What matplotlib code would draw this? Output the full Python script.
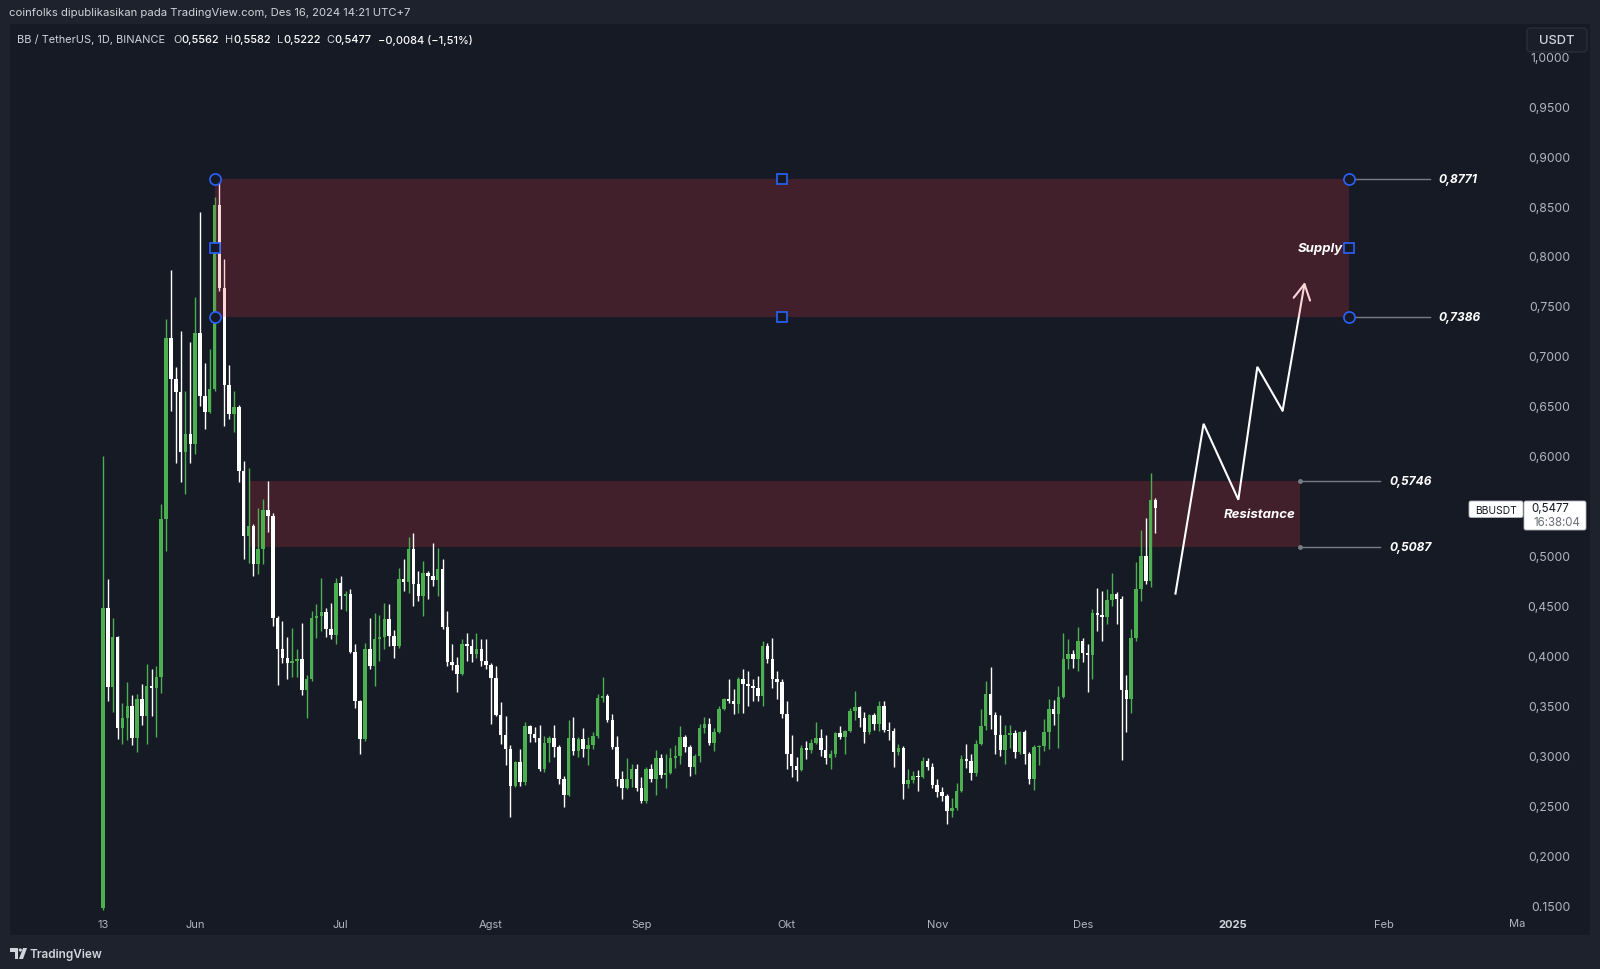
import matplotlib
matplotlib.use("Agg")
import matplotlib.pyplot as plt
import matplotlib.transforms as mtransforms
from matplotlib.patches import Rectangle, FancyBboxPatch, Polygon, Circle
from matplotlib.transforms import Bbox, TransformedBbox
import numpy as np
import pandas as pd

plt.rcParams["font.family"] = ["Inter", "DejaVu Sans"]

# ---- data: BB/USDT daily candles ----
START = "2024-05-13"
opens = [
    0.147, 0.448, 0.369, 0.419, 0.327, 0.337, 0.350, 0.317, 0.357, 0.339,
    0.370, 0.368, 0.379, 0.537, 0.718, 0.677, 0.664, 0.604, 0.622, 0.612,
    0.723, 0.660, 0.644, 0.667, 0.851, 0.768, 0.671, 0.642, 0.649, 0.585,
    0.520, 0.530, 0.492, 0.507, 0.546, 0.540, 0.438, 0.407, 0.398, 0.393,
    0.395, 0.397, 0.366, 0.377, 0.438, 0.440, 0.444, 0.427, 0.421, 0.473,
    0.460, 0.462, 0.404, 0.355, 0.316, 0.407, 0.390, 0.417, 0.419, 0.437,
    0.420, 0.410, 0.477, 0.474, 0.507, 0.472, 0.460, 0.483, 0.480, 0.476,
    0.487, 0.429, 0.394, 0.391, 0.382, 0.412, 0.410, 0.402, 0.407, 0.395,
    0.391, 0.378, 0.341, 0.320, 0.306, 0.269, 0.293, 0.273, 0.329, 0.321,
    0.317, 0.286, 0.312, 0.317, 0.308, 0.276, 0.260, 0.317, 0.304, 0.316,
    0.306, 0.310, 0.319, 0.358, 0.360, 0.335, 0.308, 0.276, 0.267, 0.276,
    0.286, 0.267, 0.254, 0.286, 0.276, 0.297, 0.280, 0.282, 0.297, 0.299,
    0.318, 0.308, 0.288, 0.299, 0.327, 0.331, 0.312, 0.323, 0.347, 0.357,
    0.355, 0.352, 0.377, 0.372, 0.370, 0.368, 0.360, 0.410, 0.397, 0.377,
    0.374, 0.342, 0.301, 0.289, 0.285, 0.307, 0.305, 0.312, 0.317, 0.305,
    0.297, 0.301, 0.322, 0.318, 0.324, 0.345, 0.349, 0.337, 0.323, 0.340,
    0.331, 0.350, 0.325, 0.324, 0.303, 0.307, 0.271, 0.275, 0.279, 0.278,
    0.294, 0.288, 0.270, 0.263, 0.259, 0.244, 0.247, 0.264, 0.296, 0.294,
    0.282, 0.311, 0.329, 0.362, 0.341, 0.320, 0.305, 0.320, 0.322, 0.303,
    0.323, 0.301, 0.276, 0.308, 0.309, 0.323, 0.347, 0.342, 0.359, 0.397,
    0.402, 0.397, 0.415, 0.403, 0.401, 0.443, 0.441, 0.439, 0.456, 0.462,
    0.457, 0.366, 0.357, 0.418, 0.467, 0.500, 0.475, 0.5562,
]
highs = [
    0.600, 0.477, 0.438, 0.420, 0.353, 0.374, 0.361, 0.362, 0.372, 0.392,
    0.387, 0.390, 0.552, 0.737, 0.786, 0.689, 0.725, 0.665, 0.714, 0.759,
    0.844, 0.693, 0.707, 0.859, 0.877, 0.797, 0.691, 0.665, 0.651, 0.595,
    0.588, 0.532, 0.548, 0.557, 0.575, 0.543, 0.440, 0.435, 0.419, 0.428,
    0.407, 0.433, 0.381, 0.445, 0.452, 0.478, 0.448, 0.453, 0.478, 0.480,
    0.465, 0.467, 0.412, 0.356, 0.413, 0.438, 0.443, 0.441, 0.453, 0.452,
    0.426, 0.488, 0.497, 0.519, 0.523, 0.485, 0.495, 0.485, 0.513, 0.508,
    0.497, 0.445, 0.412, 0.399, 0.417, 0.423, 0.417, 0.423, 0.417, 0.417,
    0.393, 0.390, 0.354, 0.339, 0.310, 0.294, 0.306, 0.333, 0.330, 0.328,
    0.330, 0.319, 0.319, 0.330, 0.310, 0.279, 0.335, 0.338, 0.318, 0.327,
    0.318, 0.323, 0.362, 0.379, 0.362, 0.342, 0.319, 0.284, 0.297, 0.291,
    0.291, 0.278, 0.288, 0.291, 0.305, 0.301, 0.301, 0.307, 0.310, 0.329,
    0.320, 0.310, 0.301, 0.331, 0.338, 0.337, 0.327, 0.350, 0.358, 0.377,
    0.367, 0.379, 0.387, 0.385, 0.377, 0.380, 0.415, 0.413, 0.418, 0.385,
    0.377, 0.355, 0.320, 0.298, 0.310, 0.314, 0.316, 0.333, 0.326, 0.320,
    0.305, 0.323, 0.329, 0.325, 0.348, 0.365, 0.350, 0.344, 0.342, 0.343,
    0.355, 0.355, 0.333, 0.327, 0.311, 0.309, 0.286, 0.284, 0.285, 0.298,
    0.297, 0.292, 0.276, 0.268, 0.261, 0.257, 0.272, 0.300, 0.311, 0.301,
    0.315, 0.347, 0.375, 0.389, 0.344, 0.340, 0.330, 0.330, 0.325, 0.324,
    0.325, 0.303, 0.310, 0.310, 0.336, 0.357, 0.356, 0.370, 0.423, 0.417,
    0.406, 0.429, 0.418, 0.412, 0.447, 0.468, 0.465, 0.467, 0.483, 0.464,
    0.460, 0.381, 0.427, 0.494, 0.526, 0.538, 0.583, 0.5582,
]
lows = [
    0.145, 0.355, 0.344, 0.316, 0.311, 0.315, 0.310, 0.303, 0.330, 0.311,
    0.339, 0.318, 0.363, 0.505, 0.645, 0.593, 0.574, 0.562, 0.593, 0.602,
    0.650, 0.627, 0.643, 0.665, 0.765, 0.630, 0.637, 0.624, 0.574, 0.497,
    0.493, 0.480, 0.482, 0.492, 0.524, 0.430, 0.371, 0.393, 0.377, 0.379,
    0.379, 0.361, 0.337, 0.375, 0.418, 0.425, 0.419, 0.417, 0.412, 0.447,
    0.445, 0.403, 0.348, 0.301, 0.314, 0.387, 0.370, 0.395, 0.407, 0.410,
    0.398, 0.408, 0.465, 0.463, 0.450, 0.455, 0.440, 0.457, 0.470, 0.460,
    0.427, 0.390, 0.386, 0.364, 0.381, 0.395, 0.394, 0.398, 0.390, 0.387,
    0.331, 0.339, 0.311, 0.290, 0.238, 0.268, 0.269, 0.270, 0.313, 0.313,
    0.284, 0.283, 0.293, 0.298, 0.271, 0.248, 0.259, 0.300, 0.298, 0.298,
    0.290, 0.306, 0.317, 0.354, 0.333, 0.306, 0.269, 0.256, 0.266, 0.268,
    0.264, 0.252, 0.252, 0.273, 0.260, 0.277, 0.267, 0.281, 0.287, 0.291,
    0.303, 0.279, 0.281, 0.293, 0.322, 0.310, 0.304, 0.322, 0.346, 0.353,
    0.342, 0.343, 0.343, 0.350, 0.355, 0.355, 0.350, 0.393, 0.368, 0.357,
    0.337, 0.286, 0.278, 0.274, 0.284, 0.296, 0.302, 0.311, 0.299, 0.291,
    0.286, 0.298, 0.316, 0.301, 0.323, 0.335, 0.328, 0.312, 0.321, 0.325,
    0.324, 0.323, 0.315, 0.288, 0.300, 0.256, 0.267, 0.272, 0.264, 0.277,
    0.285, 0.267, 0.258, 0.254, 0.231, 0.238, 0.245, 0.263, 0.287, 0.275,
    0.279, 0.310, 0.325, 0.326, 0.301, 0.299, 0.291, 0.307, 0.297, 0.301,
    0.291, 0.271, 0.265, 0.290, 0.304, 0.306, 0.330, 0.307, 0.358, 0.387,
    0.388, 0.385, 0.394, 0.364, 0.377, 0.425, 0.415, 0.432, 0.450, 0.432,
    0.295, 0.323, 0.343, 0.415, 0.455, 0.472, 0.469, 0.5222,
]
closes = [
    0.448, 0.369, 0.419, 0.327, 0.337, 0.350, 0.317, 0.357, 0.339, 0.370,
    0.368, 0.379, 0.537, 0.718, 0.677, 0.664, 0.604, 0.622, 0.612, 0.723,
    0.660, 0.644, 0.667, 0.851, 0.768, 0.671, 0.642, 0.649, 0.585, 0.520,
    0.530, 0.492, 0.507, 0.546, 0.540, 0.438, 0.407, 0.398, 0.393, 0.395,
    0.397, 0.366, 0.377, 0.438, 0.440, 0.444, 0.427, 0.421, 0.473, 0.460,
    0.462, 0.404, 0.355, 0.316, 0.407, 0.390, 0.417, 0.419, 0.437, 0.420,
    0.410, 0.477, 0.474, 0.507, 0.472, 0.460, 0.483, 0.480, 0.476, 0.487,
    0.429, 0.394, 0.391, 0.382, 0.412, 0.410, 0.402, 0.407, 0.395, 0.391,
    0.378, 0.341, 0.320, 0.306, 0.269, 0.293, 0.273, 0.329, 0.321, 0.317,
    0.286, 0.312, 0.317, 0.308, 0.276, 0.260, 0.317, 0.304, 0.316, 0.306,
    0.310, 0.319, 0.358, 0.360, 0.335, 0.308, 0.276, 0.267, 0.276, 0.286,
    0.267, 0.254, 0.286, 0.276, 0.297, 0.280, 0.282, 0.297, 0.299, 0.318,
    0.308, 0.288, 0.299, 0.327, 0.331, 0.312, 0.323, 0.347, 0.357, 0.355,
    0.352, 0.377, 0.372, 0.370, 0.368, 0.360, 0.410, 0.397, 0.377, 0.374,
    0.342, 0.301, 0.289, 0.285, 0.307, 0.305, 0.312, 0.317, 0.305, 0.297,
    0.301, 0.322, 0.318, 0.324, 0.345, 0.349, 0.337, 0.323, 0.340, 0.331,
    0.350, 0.325, 0.324, 0.303, 0.307, 0.271, 0.275, 0.279, 0.278, 0.294,
    0.288, 0.270, 0.263, 0.259, 0.244, 0.247, 0.264, 0.296, 0.294, 0.282,
    0.311, 0.329, 0.362, 0.341, 0.320, 0.305, 0.320, 0.322, 0.303, 0.323,
    0.301, 0.276, 0.308, 0.309, 0.323, 0.347, 0.342, 0.359, 0.397, 0.402,
    0.397, 0.415, 0.403, 0.401, 0.443, 0.441, 0.439, 0.456, 0.462, 0.457,
    0.366, 0.357, 0.418, 0.467, 0.500, 0.475, 0.5562, 0.5477,
]

tick_dates = ["2024-05-13", "2024-06-01", "2024-07-01", "2024-08-01", "2024-09-01",
              "2024-10-01", "2024-11-01", "2024-12-01", "2025-01-01", "2025-02-01"]
tick_labels = ["13", "Jun", "Jul", "Agst", "Sep", "Okt", "Nov", "Des", "2025", "Feb"]
cut_tick_date = "2025-03-01"
price_ticks = [0.15, 0.20, 0.25, 0.30, 0.35, 0.40, 0.45, 0.50, 0.55, 0.60,
               0.65, 0.70, 0.75, 0.80, 0.85, 0.90, 0.95, 1.00]
price_tick_labels = ["0.1500", "0,2000", "0,2500", "0,3000", "0,3500", "0,4000",
                     "0,4500", "0,5000", "0,5500", "0,6000", "0,6500", "0,7000",
                     "0,7500", "0,8000", "0,8500", "0,9000", "0,9500", "1,0000"]

# drawings
supply_low, supply_high = 0.7386, 0.8771
supply_start, supply_end = "2024-06-05 02:00", "2025-01-24 22:00"
res_low, res_high = 0.5087, 0.5746
res_start, res_end = "2024-06-12 00:00", "2025-01-14 19:00"
path_dates = ["2024-12-20 02:00", "2024-12-25 22:00", "2025-01-02 02:00",
              "2025-01-06 00:00", "2025-01-11 05:00", "2025-01-15 19:00"]
path_prices = [0.461, 0.632, 0.556, 0.689, 0.645, 0.774]
last_price = "0,5477"
countdown = "16:38:04"

BG = "#161a25"
FRAME = "#1e222d"
GREEN = "#4caf50"
TXT = "#b2b5be"

start = pd.Timestamp(START)


def day(s):
    return (pd.Timestamp(s) - start) / pd.Timedelta(days=1)


fig = plt.figure(figsize=(16, 9.7), dpi=100, facecolor=FRAME)
# pixel coords measured from the top-left corner
pix = mtransforms.Affine2D().scale(1 / 1600, -1 / 970).translate(0, 1) + fig.transFigure

fig.add_artist(Rectangle((10, 25), 1580, 911, transform=pix, fc=BG, ec="none", zorder=0))

ax = fig.add_axes([10 / 1600, 1 - 913 / 970, 1485 / 1600, 888 / 970])
ax.set_facecolor(BG)
for sp in ax.spines.values():
    sp.set_visible(False)
ax.set_xlim(-19.18, 287.0)
ax.set_ylim(0.1433, 1.0322)

# candles
dates = pd.date_range(START, periods=len(closes), freq="D")
x = np.asarray((dates - start).days, dtype=float)
o, h, l, c = (np.array(v) for v in (opens, highs, lows, closes))
cols = np.where(c >= o, GREEN, "#ffffff")
ax.vlines(x, l, h, colors=cols, linewidth=1.0, zorder=3)
ax.bar(x, np.maximum(np.abs(c - o), 0.0015), bottom=np.minimum(o, c), width=0.72,
       color=cols, linewidth=0, zorder=3)

# zones
rs, re_ = day(res_start), day(res_end)
ss, se = day(supply_start), day(supply_end)
ax.add_patch(Rectangle((rs, res_low), re_ - rs, res_high - res_low,
                       fc="#f23645", alpha=0.2, ec="none", zorder=1))
ax.add_patch(Rectangle((ss, supply_low), se - ss, supply_high - supply_low,
                       fc="#f23645", alpha=0.2, ec="none", zorder=5))

# projected path
px_ = [day(d) for d in path_dates]
ax.plot(px_[:-1], path_prices[:-1], color="white", lw=1.5, zorder=4,
        solid_joinstyle="miter", solid_capstyle="butt")
ax.annotate("", xy=(px_[-1], path_prices[-1]), xytext=(px_[-2], path_prices[-2]),
            arrowprops=dict(arrowstyle="->,head_length=1.1,head_width=0.6",
                            color="white", lw=1.5, shrinkA=0, shrinkB=0), zorder=4)

# price lines + labels
for y0, x0, in [(supply_high, se), (supply_low, se), (res_high, re_), (res_low, re_)]:
    ax.plot([x0, x0 + 16.6], [y0, y0], color="#787b86", lw=1, zorder=2)
    ax.plot([x0], [y0], "o", ms=2.5, color="#787b86", zorder=2)
    lab = ("%.4f" % y0).replace(".", ",")
    ax.text(x0 + 18.5, y0, lab, color="white", fontsize=8.6, fontweight="bold",
            fontstyle="italic", va="center", ha="left", zorder=8)

ax.annotate("Supply", xy=(se, (supply_low + supply_high) / 2), xytext=(-4, 0),
            textcoords="offset points", ha="right", va="center", color="white",
            fontsize=9.5, fontweight="bold", fontstyle="italic", zorder=8)
ax.annotate("Resistance", xy=(re_, (res_low + res_high) / 2), xytext=(-3, 0),
            textcoords="offset points", ha="right", va="center", color="white",
            fontsize=9.5, fontweight="bold", fontstyle="italic", zorder=8)

# selection handles of the supply rectangle
mid_x, mid_y = (ss + se) / 2, (supply_low + supply_high) / 2
ax.plot([ss, ss, se, se], [supply_high, supply_low, supply_high, supply_low], "o",
        ms=8, mfc=BG, mec="#2962ff", mew=1.2, zorder=9, linestyle="none")
ax.plot([mid_x, mid_x, ss, se], [supply_high, supply_low, mid_y, mid_y], "s",
        ms=7, mfc=BG, mec="#2962ff", mew=1.2, zorder=9, linestyle="none")

# axes ticks
ax.set_xticks([day(d) for d in tick_dates], tick_labels)
ax.tick_params(axis="x", length=0, pad=5, labelcolor=TXT, labelsize=8)
for t in ax.get_xticklabels():
    if t.get_text() == "2025":
        t.set_fontweight("bold")
        t.set_color("#d1d4dc")
mar = ax.text(day(cut_tick_date), -0.0124, "Mar", transform=ax.get_xaxis_transform(),
              ha="center", va="center", color=TXT, fontsize=8)
mar.set_clip_on(True)
mar.set_clip_box(TransformedBbox(Bbox.from_extents(0, 0, 1525, 970),
                                 mtransforms.IdentityTransform()))

ax.yaxis.tick_right()
ax.set_yticks(price_ticks, price_tick_labels)
ax.tick_params(axis="y", length=0, pad=54, labelcolor=TXT, labelsize=8.8)
for t in ax.get_yticklabels():
    t.set_horizontalalignment("right")

# top texts
fig.text(9, 13, "coinfolks dipublikasikan pada TradingView.com, Des 16, 2024 14:21 UTC+7",
         transform=pix, color="#d1d4dc", fontsize=8.1, va="center", ha="left")

r = fig.canvas.get_renderer()
cx = 17
pieces = [("BB / TetherUS, 1D, BINANCE", "#d1d4dc", "normal", 8),
          ("O", "#d1d4dc", "normal", 0), ("0,5562", "white", "medium", 6),
          ("H", "#d1d4dc", "normal", 0), ("0,5582", "white", "medium", 6),
          ("L", "#d1d4dc", "normal", 0), ("0,5222", "white", "medium", 6),
          ("C", "#d1d4dc", "normal", 0), ("0,5477", "white", "medium", 6),
          ("\u22120,0084 (\u22121,51%)", "white", "medium", 0)]
for s, col, w, gap in pieces:
    t = fig.text(cx, 40, s, transform=pix, color=col, fontsize=7.9, fontweight=w,
                 va="center", ha="left")
    cx += t.get_window_extent(renderer=r).width + gap

# USDT button
fig.add_artist(FancyBboxPatch((1527, 29), 60, 24, boxstyle="round,pad=0,rounding_size=4",
                              transform=pix, fc="#1a1e29", ec="#2a2e39", lw=1, zorder=10))
fig.text(1557, 41.5, "USDT", transform=pix, color="#d1d4dc", fontsize=9.3,
         fontweight="medium", ha="center", va="center", zorder=11)

# last price tag
fig.add_artist(FancyBboxPatch((1469, 502), 54, 16.5, boxstyle="round,pad=0,rounding_size=2",
                              transform=pix, fc="white", ec="#b2b5be", lw=0.6, zorder=10))
fig.text(1496, 510.5, "BBUSDT", transform=pix, color="#131722", fontsize=7.4,
         ha="center", va="center", zorder=11)
fig.add_artist(FancyBboxPatch((1524, 502), 62, 29, boxstyle="round,pad=0,rounding_size=2",
                              transform=pix, fc="white", ec="#b2b5be", lw=0.6, zorder=10))
fig.text(1531, 509.5, last_price, transform=pix, color="#131722", fontsize=8.3,
         ha="left", va="center", zorder=11)
fig.text(1580, 523, countdown, transform=pix, color="#6a6d78", fontsize=8.3,
         ha="right", va="center", zorder=11)

# footer logo + name
fig.add_artist(Polygon([(10, 949), (18, 949), (18, 960), (15, 960), (15, 952.5), (10, 952.5)],
                       closed=True, transform=pix, fc="#d1d4dc", ec="none"))
fig.add_artist(Circle((20.3, 951), 1.6, transform=pix, fc="#d1d4dc", ec="none"))
fig.add_artist(Polygon([(23, 949), (27, 949), (23, 960), (19, 960)],
                       closed=True, transform=pix, fc="#d1d4dc", ec="none"))
fig.text(30, 955, "TradingView", transform=pix, color="#d1d4dc", fontsize=8.5,
         fontweight="semibold", ha="left", va="center")

fig.savefig("out.png", dpi=100, facecolor=FRAME)
